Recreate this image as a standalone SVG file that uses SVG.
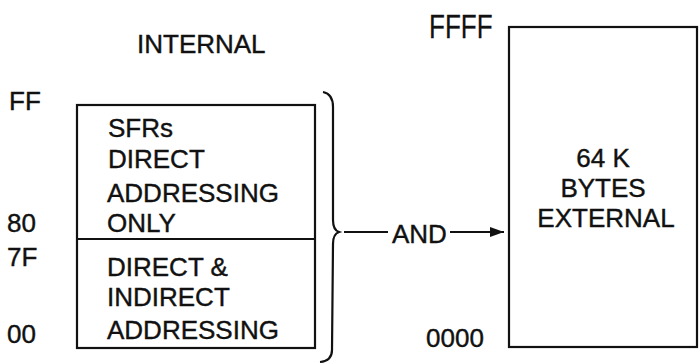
<svg xmlns="http://www.w3.org/2000/svg" width="699" height="364" viewBox="0 0 699 364">
<defs>
<style>
text{font-family:"Liberation Sans",Arial,sans-serif;font-size:26px;fill:#111;stroke:#111;stroke-width:0.4}
.ln{fill:none;stroke:#111;stroke-width:2.2}
</style>
<marker id="ah" viewBox="0 0 14 12" refX="14" refY="6" markerWidth="14" markerHeight="12" orient="auto" markerUnits="userSpaceOnUse">
<path d="M0,1 L14,6 L0,11 Z" fill="#111"/>
</marker>
</defs>
<rect width="699" height="364" fill="#fff"/>
<text x="137" y="53">INTERNAL</text>
<g id="addr-labels">
<text x="9" y="110">FF</text>
<text x="7" y="232">80</text>
<text x="7" y="266">7F</text>
<text x="7" y="343">00</text>
<text transform="translate(429,38) scale(1,1.3)" x="0" y="0" style="stroke-width:0.2">FFFF</text>
<text x="426" y="347">0000</text>
</g>
<g id="internal">
<rect class="ln" x="77" y="105" width="238" height="243"/>
<line class="ln" x1="77" y1="239" x2="315" y2="239"/>
<text x="108" y="137">SFRs</text>
<text x="108" y="168">DIRECT</text>
<text x="107" y="202">ADDRESSING</text>
<text x="107" y="232">ONLY</text>
<text x="107" y="276">DIRECT &amp;</text>
<text x="107" y="306">INDIRECT</text>
<text x="107" y="339">ADDRESSING</text>
</g>
<g id="brace">
<path class="ln" d="M323,92 Q333,94 333,107 L333,220 Q333,230 339,232 Q333,234 333,244 L332,350 Q332,361 320,362"/>
</g>
<g id="external">
<rect class="ln" x="509" y="27" width="188" height="320"/>
<text x="603" y="167" text-anchor="middle">64 K</text>
<text x="603" y="197" text-anchor="middle">BYTES</text>
<text x="606" y="227" text-anchor="middle">EXTERNAL</text>
</g>
<g id="connectors">
<line class="ln" x1="344" y1="232" x2="388" y2="232"/>
<text x="392" y="243">AND</text>
<line class="ln" x1="450" y1="232" x2="504" y2="232" marker-end="url(#ah)"/>
</g>
</svg>
